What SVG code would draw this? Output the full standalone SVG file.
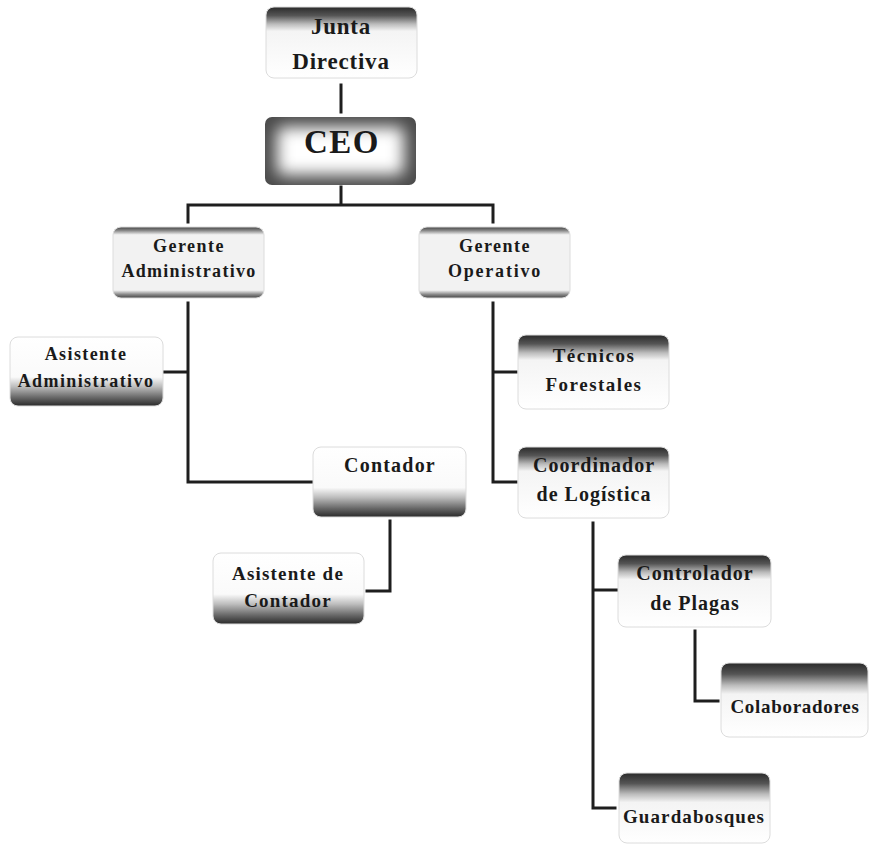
<svg xmlns="http://www.w3.org/2000/svg" width="874" height="844" viewBox="0 0 874 844">
<defs>
<linearGradient id="gTop" x1="0" y1="0" x2="0" y2="1">
<stop offset="0" stop-color="#2a2a2a"/>
<stop offset="0.12" stop-color="#555"/>
<stop offset="0.24" stop-color="#bbb"/>
<stop offset="0.34" stop-color="#f4f4f4"/>
<stop offset="1" stop-color="#fff"/>
</linearGradient>
<linearGradient id="gTopTall" x1="0" y1="0" x2="0" y2="1">
<stop offset="0" stop-color="#2a2a2a"/>
<stop offset="0.15" stop-color="#555"/>
<stop offset="0.3" stop-color="#bbb"/>
<stop offset="0.42" stop-color="#f4f4f4"/>
<stop offset="1" stop-color="#fff"/>
</linearGradient>
<linearGradient id="gBottom" x1="0" y1="0" x2="0" y2="1">
<stop offset="0" stop-color="#fff"/>
<stop offset="0.58" stop-color="#fafafa"/>
<stop offset="0.72" stop-color="#bdbdbd"/>
<stop offset="0.88" stop-color="#666"/>
<stop offset="1" stop-color="#2a2a2a"/>
</linearGradient>
<linearGradient id="gThin" x1="0" y1="0" x2="0" y2="1">
<stop offset="0" stop-color="#444"/>
<stop offset="0.05" stop-color="#888"/>
<stop offset="0.11" stop-color="#f2f2f2"/>
<stop offset="0.89" stop-color="#f2f2f2"/>
<stop offset="0.95" stop-color="#888"/>
<stop offset="1" stop-color="#444"/>
</linearGradient>
<filter id="blur" x="-20%" y="-20%" width="140%" height="140%">
<feGaussianBlur stdDeviation="8"/>
</filter>
</defs>
<style>
.box{stroke:#dcdcdc;stroke-width:1}
.t{font-family:"Liberation Serif","Times New Roman",serif;font-weight:bold;fill:#1a1a1a;text-anchor:middle}
.conn{fill:none;stroke:#1e1e1e;stroke-width:3;stroke-linecap:square}
</style>
<rect width="874" height="844" fill="#fff"/>

<g id="connectors">
<path class="conn" d="M341,85 V112"/>
<path class="conn" d="M341,187 V205 M188,222 V205 H493 V222"/>
<path class="conn" d="M188,303 V482 H312 M164,372 H188"/>
<path class="conn" d="M493,303 V482 H516 M493,372 H516"/>
<path class="conn" d="M390,521 V591 H367"/>
<path class="conn" d="M593,523 V808 H615 M593,590 H617"/>
<path class="conn" d="M695,631 V701 H718"/>
</g>

<g id="junta">
<rect class="box" x="266" y="7" width="151" height="71" rx="8" fill="url(#gTop)"/>
<text class="t" x="341" y="34" font-size="23" letter-spacing="0.8">Junta</text>
<text class="t" x="341" y="69" font-size="23" letter-spacing="0.8">Directiva</text>
</g>

<g id="ceo">
<rect x="265" y="117" width="151" height="68" rx="7" fill="#4a4a4a"/>
<rect x="277" y="127" width="127" height="48" rx="6" fill="#fff" filter="url(#blur)"/>
<text class="t" x="342" y="153" font-size="33" letter-spacing="1.5">CEO</text>
</g>

<g id="gerente-admin">
<rect class="box" x="113" y="227" width="151" height="71" rx="8" fill="url(#gThin)"/>
<text class="t" x="189" y="252" font-size="18" letter-spacing="1.5">Gerente</text>
<text class="t" x="189" y="277" font-size="18" letter-spacing="1.3">Administrativo</text>
</g>

<g id="gerente-op">
<rect class="box" x="419" y="227" width="151" height="71" rx="8" fill="url(#gThin)"/>
<text class="t" x="495" y="252" font-size="18" letter-spacing="1.5">Gerente</text>
<text class="t" x="495" y="277" font-size="18" letter-spacing="1.8">Operativo</text>
</g>

<g id="asistente-admin">
<rect class="box" x="10" y="337" width="153" height="69" rx="8" fill="url(#gBottom)"/>
<text class="t" x="86" y="360" font-size="18" letter-spacing="1.4">Asistente</text>
<text class="t" x="86" y="387" font-size="18" letter-spacing="1.4">Administrativo</text>
</g>

<g id="tecnicos">
<rect class="box" x="518" y="335" width="151" height="74" rx="8" fill="url(#gTop)"/>
<text class="t" x="594" y="362" font-size="19" letter-spacing="1.5">Técnicos</text>
<text class="t" x="594" y="391" font-size="19" letter-spacing="1.5">Forestales</text>
</g>

<g id="contador">
<rect class="box" x="313" y="447" width="153" height="70" rx="8" fill="url(#gBottom)"/>
<text class="t" x="390" y="472" font-size="20" letter-spacing="1.2">Contador</text>
</g>

<g id="coordinador">
<rect class="box" x="518" y="447" width="151" height="71" rx="8" fill="url(#gTop)"/>
<text class="t" x="594" y="472" font-size="20" letter-spacing="1">Coordinador</text>
<text class="t" x="594" y="501" font-size="20" letter-spacing="1">de Logística</text>
</g>

<g id="asistente-contador">
<rect class="box" x="213" y="553" width="151" height="71" rx="8" fill="url(#gBottom)"/>
<text class="t" x="288" y="580" font-size="19" letter-spacing="1.2">Asistente de</text>
<text class="t" x="288" y="607" font-size="19" letter-spacing="1.2">Contador</text>
</g>

<g id="controlador">
<rect class="box" x="618" y="555" width="153" height="72" rx="8" fill="url(#gTop)"/>
<text class="t" x="695" y="580" font-size="20" letter-spacing="1">Controlador</text>
<text class="t" x="695" y="610" font-size="20" letter-spacing="1">de Plagas</text>
</g>

<g id="colaboradores">
<rect class="box" x="721" y="663" width="147" height="74" rx="8" fill="url(#gTopTall)"/>
<text class="t" x="795" y="713" font-size="19" letter-spacing="0.7">Colaboradores</text>
</g>

<g id="guardabosques">
<rect class="box" x="619" y="773" width="151" height="70" rx="8" fill="url(#gTopTall)"/>
<text class="t" x="694" y="823" font-size="19" letter-spacing="1.1">Guardabosques</text>
</g>
</svg>
